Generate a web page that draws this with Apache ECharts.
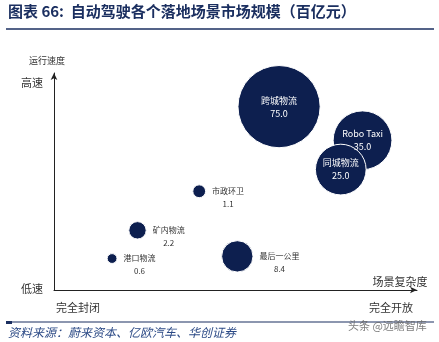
<!DOCTYPE html>
<html><head><meta charset="utf-8">
<script src="https://cdn.jsdelivr.net/npm/echarts@6/dist/echarts.min.js"></script>
<style>html,body{margin:0;padding:0;background:#fff}#c{width:439px;height:342px}</style>
</head><body><div id="c"></div>
<script>
// scenario names, market size (百亿元), position on complexity (x) / speed (y) axes (0-100)
var names = ['跨城物流','Robo Taxi','同城物流','市政环卫','矿内物流','港口物流','最后一公里'];
var marketSize = [75.0, 35.0, 25.0, 1.1, 2.2, 0.6, 8.4];
var complexity = [62, 85, 79, 40, 23, 16, 50.5];
var speed = [84.5, 69, 55.5, 45.5, 27.5, 14.5, 15.5];
var insideLabel = ['跨城物流','Robo Taxi','同城物流'];
var yTickLabels = ['低速','高速'];
var xTickLabels = ['完全封闭','完全开放'];
var yAxisName = '运行速度';
var xAxisName = '场景复杂度';
var titleText = '图表 66:  自动驾驶各个落地场景市场规模（百亿元）';
var sourceText = '资料来源：蔚来资本、亿欧汽车、华创证券';
var watermark = '头条 @远瞻智库';

var navy = '#0d1f4f';
var serif = '"Noto Sans CJK SC", sans-serif';
var data = names.map(function(n,i){
  var o = {name:n, value:[complexity[i], speed[i], marketSize[i]]};
  if (insideLabel.indexOf(n)>=0) o.label = {position:'inside', offset:[0,0]};
  return o;
});

var chart = echarts.init(document.getElementById('c'));
chart.setOption({
  animation:false,
  grid:{left:54, right:22, top:73, bottom:52},
  xAxis:{type:'value', min:0, max:100, splitLine:{show:false}, axisTick:{show:false}, axisLabel:{show:false},
    axisLine:{lineStyle:{color:'#222', width:1}, symbol:['none','arrow'], symbolSize:[5,7]}},
  yAxis:{type:'value', min:0, max:100, splitLine:{show:false}, axisTick:{show:false}, axisLabel:{show:false},
    axisLine:{lineStyle:{color:'#222', width:1}, symbol:['none','arrow'], symbolSize:[5,7]}},
  series:[{
    type:'scatter',
    data:data,
    symbolSize:function(d){ return 12.3*Math.pow(d[2],0.44); },
    itemStyle:{color:navy, borderColor:'#fff', borderWidth:1, opacity:1},
    label:{
      show:true,
      position:'right',
      distance:5,
      offset:[0,6],
      formatter:function(p){
        var v = p.value[2].toFixed(1);
        var w = p.name.length>4 ? 't5' : 't4';
        if (insideLabel.indexOf(p.name)>=0) return '{i|'+p.name+'}\n{i|'+v+'}';
        return '{'+w+'|'+p.name+'}\n{'+w+'|'+v+'}';
      },
      rich:{
        i:{color:'#fff', fontSize:9, fontFamily:serif, align:'center', lineHeight:13},
        t4:{color:'#333', fontSize:8, fontFamily:serif, width:34, align:'center', lineHeight:13},
        t5:{color:'#333', fontSize:8, fontFamily:serif, width:42, align:'center', lineHeight:13}
      }
    }
  }],
  graphic:[
    {type:'text', left:8, top:4, style:{text:titleText, fill:'#1b2f60', font:'bold 15px '+serif}},
    {type:'line', shape:{x1:6,y1:29,x2:434,y2:29}, style:{stroke:'#1b2f60', lineWidth:1.5}},
    {type:'line', shape:{x1:6,y1:322,x2:434,y2:322}, style:{stroke:'#1b2f60', lineWidth:1.2}},
    {type:'rect', shape:{x:6,y:321,width:6,height:3}, style:{fill:'#1b2f60'}},
    {type:'text', left:8, top:326, style:{text:sourceText, fill:'#2c4a86', font:'italic 12px '+serif}},
    {type:'text', left:348, top:320, style:{text:watermark, fill:'#666', font:'11px '+serif, opacity:0.85}},
    {type:'text', x:47, y:61, style:{text:yAxisName, fill:'#333', font:'9px '+serif, textAlign:'center', textVerticalAlign:'middle'}},
    {type:'text', x:32, y:83, style:{text:yTickLabels[1], fill:'#333', font:'11px '+serif, textAlign:'center', textVerticalAlign:'middle'}},
    {type:'text', x:32, y:289, style:{text:yTickLabels[0], fill:'#333', font:'11px '+serif, textAlign:'center', textVerticalAlign:'middle'}},
    {type:'text', x:78, y:308, style:{text:xTickLabels[0], fill:'#333', font:'11px '+serif, textAlign:'center', textVerticalAlign:'middle'}},
    {type:'text', x:391, y:308, style:{text:xTickLabels[1], fill:'#333', font:'11px '+serif, textAlign:'center', textVerticalAlign:'middle'}},
    {type:'text', x:400, y:282, style:{text:xAxisName, fill:'#333', font:'11px '+serif, textAlign:'center', textVerticalAlign:'middle'}}
  ]
});
</script></body></html>
